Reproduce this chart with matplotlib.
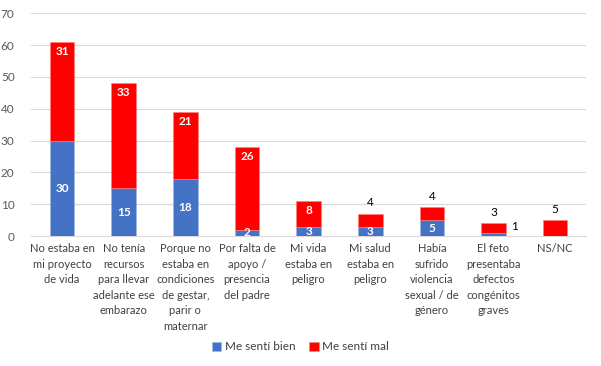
import matplotlib.pyplot as plt
import numpy as np

plt.rcParams['font.family'] = ['Lato', 'DejaVu Sans']

categories = ['No estaba en\nmi proyecto\nde vida',
              'No tenía\nrecursos\npara llevar\nadelante ese\nembarazo',
              'Porque no\nestaba en\ncondiciones\nde gestar,\nparir o\nmaternar',
              'Por falta de\napoyo /\npresencia\ndel padre',
              'Mi vida\nestaba en\npeligro',
              'Mi salud\nestaba en\npeligro',
              'Había\nsufrido\nviolencia\nsexual / de\ngénero',
              'El feto\npresentaba\ndefectos\ncongénitos\ngraves',
              'NS/NC']
bien = [30, 15, 18, 2, 3, 3, 5, 1, 0]
mal = [31, 33, 21, 26, 8, 4, 4, 3, 5]

blue = '#4472C4'
red = '#FF0000'

fig = plt.figure(figsize=(6.01, 3.66), dpi=100)
ax = fig.add_axes([0.052, 0.355, 0.923, 0.609])

pos = np.arange(len(categories))
width = 0.40
b1 = ax.bar(pos, bien, width, color=blue, label='Me sentí bien',
            edgecolor='#9DB5E0', linewidth=0.4, zorder=3)
b2 = ax.bar(pos, mal, width, bottom=bien, color=red, label='Me sentí mal',
            edgecolor='#FF8080', linewidth=0.4, zorder=3)

# labels for the blue part
for i, v in enumerate(bien):
    if v == 0:
        continue
    if v == 1:
        ax.text(i + 0.34, 3.1, str(v), ha='center', va='center',
                fontsize=8.5, color='black')
    else:
        ax.text(i, v / 2, str(v), ha='center', va='center',
                fontsize=8.5, color='white', fontweight='bold')

# labels for the red part
for i, v in enumerate(mal):
    top = bien[i] + v
    if v >= 8:
        ax.annotate(str(v), (i, top), xytext=(0, -7), textcoords='offset points',
                    ha='center', va='center', fontsize=8.5, color='white',
                    fontweight='bold')
    else:
        ax.annotate(str(v), (i, top), xytext=(0, 8), textcoords='offset points',
                    ha='center', va='center', fontsize=8.5, color='black')

ax.set_xlim(-0.5, len(categories) - 0.5)
ax.set_ylim(0, 70)
ax.set_yticks(range(0, 71, 10))
ax.set_xticks(pos)
ax.set_xticklabels(categories, fontsize=8, color='#404040', linespacing=1.5)
ax.tick_params(axis='y', labelsize=8.5, labelcolor='#595959', length=0, pad=12)
ax.tick_params(axis='x', length=0, pad=5)
ax.grid(axis='y', color='#D9D9D9', linewidth=0.8, zorder=0)
for s in ['top', 'right', 'left']:
    ax.spines[s].set_visible(False)
ax.spines['bottom'].set_color('#D9D9D9')

fig.legend(handles=[b1, b2], loc='center', bbox_to_anchor=(0.5, 0.052), ncol=2,
           frameon=False, fontsize=8.5, handlelength=0.8, handleheight=0.8,
           handletextpad=0.3, columnspacing=1.2, labelcolor='#404040')

fig.savefig('out.png', dpi=100)
